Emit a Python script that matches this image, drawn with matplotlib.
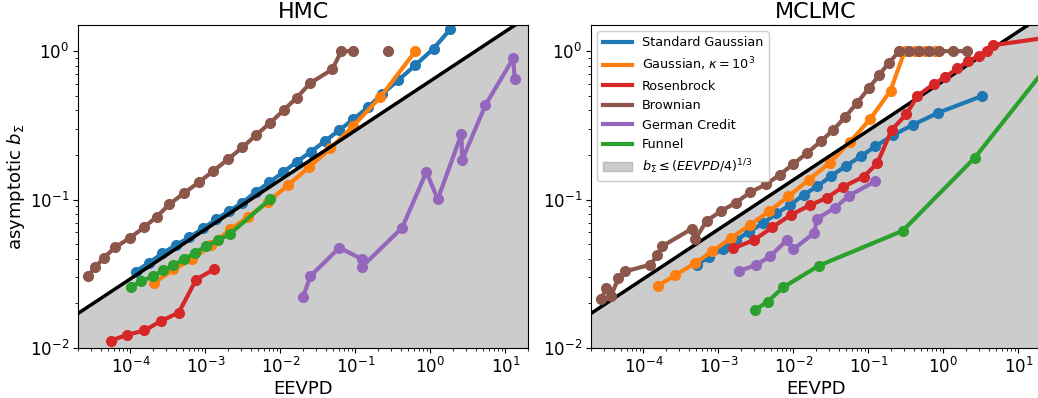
import numpy as np
import matplotlib
matplotlib.use("Agg")
import matplotlib.pyplot as plt
from matplotlib.lines import Line2D
from matplotlib.patches import Patch

nan = np.nan

# ---------------- HMC (left) ----------------
hmc_std_x = [1.17e-4, 1.77e-4, 2.67e-4, 4.04e-4, 6.12e-4, 9.27e-4, 1.40e-3, 2.09e-3, 3.12e-3, 4.71e-3,
             7.13e-3, 1.08e-2, 1.66e-2, 2.55e-2, 3.98e-2, 6.12e-2, 9.4e-2, 0.147, 0.226, 0.374, 0.631, 1.10, 1.85]
hmc_std_y = [0.0327, 0.0375, 0.0434, 0.0494, 0.0556, 0.064, 0.0736, 0.0841, 0.0952, 0.113,
             0.1305, 0.1525, 0.180, 0.210, 0.249, 0.294, 0.348, 0.418, 0.513, 0.638, 0.805, 1.04, 1.41]

hmc_kappa_x = [2.09e-4, 3.74e-4, 6.71e-4, 1.2e-3, 2.15e-3, 3.74e-3, 6.92e-3, 1.26e-2, 2.44e-2, 4.64e-2, 9.3e-2, 0.215, 0.631]
hmc_kappa_y = [0.0275, 0.0338, 0.0397, 0.0494, 0.063, 0.0766, 0.0967, 0.125, 0.166, 0.221, 0.313, 0.490, 1.0]

hmc_rosen_x = [5.46e-5, 8.9e-5, 1.54e-4, 2.56e-4, 4.4e-4, 7.52e-4, 1.31e-3]
hmc_rosen_y = [0.0112, 0.01224, 0.01312, 0.0152, 0.0173, 0.0289, 0.034]

hmc_brown_x = [2.7e-5, 3.4e-5, 4.4e-5, 6.25e-5, 9.9e-5, 1.52e-4, 2.24e-4, 3.31e-4, 5.25e-4, 8.2e-4, 1.28e-3,
               2.03e-3, 3.12e-3, 4.74e-3, 7.3e-3, 1.1e-2, 1.65e-2, 2.5e-2, 4.9e-2, 6.5e-2, 9.3e-2, nan, 0.273]
hmc_brown_y = [0.0305, 0.035, 0.0405, 0.0476, 0.0553, 0.065, 0.0766, 0.093, 0.111, 0.131, 0.156,
               0.188, 0.225, 0.272, 0.329, 0.399, 0.486, 0.609, 0.753, 1.0, 1.0, nan, 1.0]

hmc_german_x = [0.0201, 0.0251, 0.0612, 0.1228, 0.1228, 0.42, 0.885, 1.25, 2.59, 2.65, 5.41, 12.7, 13.3]
hmc_german_y = [0.0222, 0.0305, 0.0474, 0.0396, 0.0353, 0.0646, 0.154, 0.1002, 0.276, 0.1845, 0.433, 0.893, 0.648]

hmc_funnel_x = [1.02e-4, 1.40e-4, 1.97e-4, 2.71e-4, 3.74e-4, 5.25e-4, 7.36e-4, 1.03e-3, 1.49e-3, 2.12e-3, 7.24e-3]
hmc_funnel_y = [0.0259, 0.0281, 0.0304, 0.0333, 0.0362, 0.0399, 0.0438, 0.0486, 0.0533, 0.0586, 0.1003]

# ---------------- MCLMC (right) ----------------
mc_std_x = [5.17e-4, 7.53e-4, 1.15e-3, 1.73e-3, 2.58e-3, 3.98e-3, 5.93e-3, 9.04e-3, 1.38e-2, 2.09e-2,
            3.18e-2, 5.05e-2, 0.080, 0.124, 0.215, 0.392, 0.858, 3.26]
mc_std_y = [0.0365, 0.041, 0.0466, 0.0533, 0.0607, 0.0695, 0.0807, 0.0918, 0.108, 0.123,
            0.144, 0.169, 0.196, 0.229, 0.272, 0.319, 0.385, 0.498]

mc_kappa_x = [1.55e-4, 2.67e-4, 4.94e-4, 8.24e-4, 1.46e-3, 2.61e-3, 4.74e-3, 8.58e-3, 1.60e-2, 3.05e-2,
              5.70e-2, 0.1054, 0.197, 0.304, 0.424, 0.575, 0.782]
mc_kappa_y = [0.0262, 0.031, 0.0374, 0.0448, 0.0548, 0.0673, 0.0834, 0.105, 0.136, 0.177,
              0.245, 0.348, 0.542, 1.0, 1.0, 1.0, 1.0]

mc_rosen_x = [1.57e-3, 2.97e-3, 5.21e-3, 9.18e-3, 1.65e-2, 2.81e-2, 4.6e-2, 8.65e-2, 0.1306, 0.2047,
              0.319, 0.45, 0.743, 1.06, 1.52, 2.12, 3.02, 3.84, 4.64, 40.0]
mc_rosen_y = [0.0469, 0.0533, 0.065, 0.0787, 0.0914, 0.103, 0.122, 0.1425, 0.1754, 0.295,
              0.375, 0.499, 0.601, 0.667, 0.764, 0.853, 0.933, 0.995, 1.097, 1.28]

mc_brown_x = [2.73e-5, 3.18e-5, 3.69e-5, 4.64e-5, 5.70e-5, 1.23e-4, 1.53e-4, 1.77e-4, 4.4e-4, 4.89e-4,
              6.98e-4, 1.07e-3, 1.71e-3, 2.65e-3, 4.30e-3, 6.56e-3, 9.9e-3, 1.53e-2, 2.34e-2, 3.38e-2,
              4.93e-2, 7.07e-2, 0.101, 0.140, 0.187, 0.259, 0.344, 0.469, 0.637, 0.885, 1.33, 2.07]
mc_brown_y = [0.0213, 0.0252, 0.0224, 0.0295, 0.0328, 0.0364, 0.042, 0.0484, 0.0635, 0.054,
              0.0719, 0.0834, 0.0952, 0.112, 0.1264, 0.147, 0.173, 0.2066, 0.2477, 0.294,
              0.361, 0.449, 0.561, 0.695, 0.834, 1.0, 1.0, 1.0, 1.0, 1.0, 1.0, 1.0]

mc_german_x = [1.88e-3, 3.16e-3, 4.89e-3, 8.15e-3, 1.0e-2, 1.9e-2, 2.06e-2, 3.63e-2, 5.46e-2, 0.124]
mc_german_y = [0.033, 0.0362, 0.0414, 0.0533, 0.0463, 0.0595, 0.0743, 0.0883, 0.106, 0.133]

mc_funnel_x = [3.05e-3, 4.54e-3, 7.29e-3, 2.17e-2, 0.286, 2.61, 35.0]
mc_funnel_y = [0.018, 0.0205, 0.0256, 0.0358, 0.0616, 0.191, 1.0]

labels = ["Standard Gaussian", r"Gaussian, $\kappa = 10^3$", "Rosenbrock", "Brownian", "German Credit", "Funnel"]
colors = ["#1f77b4", "#ff7f0e", "#d62728", "#8c564b", "#9467bd", "#2ca02c"]

hmc_series = [(hmc_std_x, hmc_std_y), (hmc_kappa_x, hmc_kappa_y), (hmc_rosen_x, hmc_rosen_y),
              (hmc_brown_x, hmc_brown_y), (hmc_german_x, hmc_german_y), (hmc_funnel_x, hmc_funnel_y)]
mc_series = [(mc_std_x, mc_std_y), (mc_kappa_x, mc_kappa_y), (mc_rosen_x, mc_rosen_y),
             (mc_brown_x, mc_brown_y), (mc_german_x, mc_german_y), (mc_funnel_x, mc_funnel_y)]

xlim = (2e-5, 20)
ylim = (1e-2, 1.5)

fig = plt.figure(figsize=(10.38, 3.98), dpi=100)
axL = fig.add_axes([78 / 1038, 50 / 398, 450 / 1038, 323 / 398])
axR = fig.add_axes([591 / 1038, 50 / 398, 450 / 1038, 323 / 398])

for ax, series, title in [(axL, hmc_series, "HMC"), (axR, mc_series, "MCLMC")]:
    xs = np.logspace(np.log10(xlim[0]) - 0.5, np.log10(xlim[1]) + 0.5, 400)
    bound = (xs / 4) ** (1 / 3)
    ax.fill_between(xs, 1e-4, bound, color="#cccccc", zorder=0)
    for i, ((x, y), c) in enumerate(zip(series, colors)):
        ax.plot(x, y, "-o", color=c, lw=3, ms=7, zorder=2 + 0.1 * i)
    ax.plot(xs, bound, color="black", lw=2.5, zorder=2.15)
    ax.set_xscale("log")
    ax.set_yscale("log")
    ax.set_xlim(*xlim)
    ax.set_ylim(*ylim)
    ax.set_title(title, fontsize=16, pad=5)
    ax.set_xlabel("EEVPD", fontsize=13, labelpad=2)
    ax.tick_params(labelsize=12, pad=3)

axL.set_ylabel(r"asymptotic $b_\Sigma$", fontsize=13, labelpad=2)

handles = [Line2D([0], [0], color=c, lw=3) for c in colors]
handles.append(Patch(facecolor="#cccccc", edgecolor="#bbbbbb"))
leg_labels = labels + [r"$b_\Sigma \leq (EEVPD/4)^{1/3}$"]
axR.legend(handles, leg_labels, loc="upper left", fontsize=9.2, framealpha=1.0,
           borderaxespad=0.5, labelspacing=0.5, handlelength=2.3)

fig.savefig("out.png", dpi=100)
